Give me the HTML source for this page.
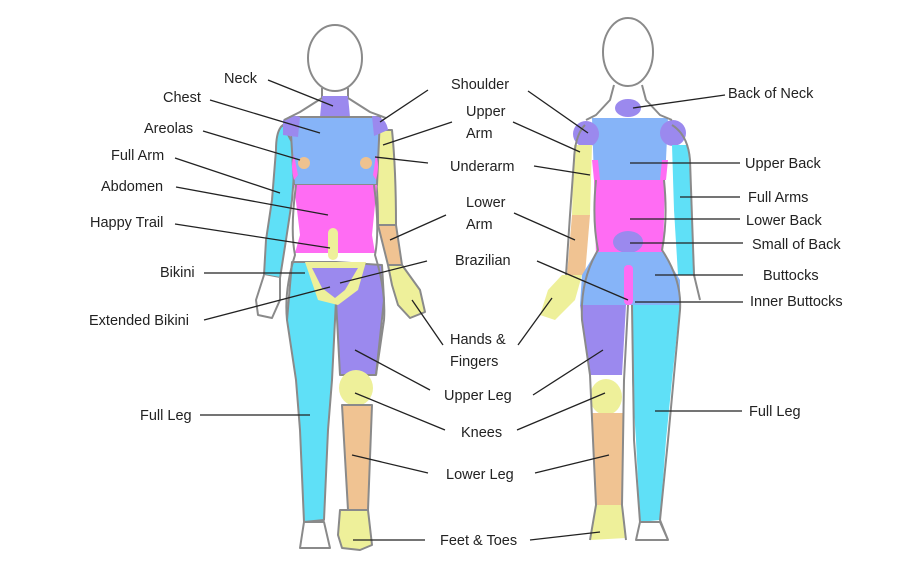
<!DOCTYPE html>
<html><head><meta charset="utf-8"><style>
html,body{margin:0;padding:0;background:#fff;}
svg{display:block;}
text{font-family:"Liberation Sans",sans-serif;font-size:14.5px;fill:#222;}
</style></head><body>
<svg width="900" height="580" viewBox="0 0 900 580" xmlns="http://www.w3.org/2000/svg">
<g stroke="#8a8a8a" stroke-width="2" stroke-linejoin="round">
<!-- FRONT FIGURE -->
<ellipse cx="335" cy="58" rx="27" ry="33" fill="#fff"/>
<path d="M322 88 L322 98 M348 88 L348 98" fill="none"/>
<!-- left arm cyan -->
<path d="M283 125 Q276 130 276 150 L272 200 L266 240 L264 275 L280 278 L286 240 L292 200 L296 150 Z" fill="#5fe0f7"/>
<path d="M264 275 L256 300 L258 315 L272 318 L280 300 L280 278" fill="#fff"/>
<!-- right arm -->
<path d="M378 130 L392 130 Q396 170 396 225 L378 225 Q378 180 372 150 Z" fill="#eef09a"/>
<path d="M378 225 L396 225 L402 265 L388 265 Z" fill="#f0c392"/>
<path d="M388 265 L402 265 L420 290 L425 312 L410 318 L398 305 L392 285 Z" fill="#eef09a"/>
<!-- torso -->
<path d="M322 96 L348 96 L350 117 L320 117 Z" fill="#9b89ee" stroke="none"/>
<path d="M290 117 L380 117 L377 185 L294 185 Z" fill="#86b4f8"/>
<path d="M283 120 Q292 114 300 117 L298 137 L283 135 Z" fill="#9b89ee" stroke="none"/>
<path d="M372 116 Q386 116 388 130 L374 136 Z" fill="#9b89ee" stroke="none"/>
<path d="M294 155 Q290 165 294 180 L298 175 Z M376 155 Q380 165 376 180 L373 175 Z" fill="#ff6cf3" stroke="none"/>
<circle cx="304" cy="163" r="6" fill="#efc28f" stroke="none"/>
<circle cx="366" cy="163" r="6" fill="#efc28f" stroke="none"/>
<path d="M294 185 L377 185 L372 235 L375 253 L295 253 L300 235 Z" fill="#ff6cf3" stroke="none"/>
<rect x="328" y="228" width="10" height="32" rx="5" fill="#eef09a" stroke="none"/>
<!-- legs -->
<path d="M292 262 L336 262 L336 300 L332 380 L328 430 L324 520 L304 522 L300 430 L296 380 L287 320 Z" fill="#5fe0f7"/>
<path d="M336 262 L382 265 L384 300 L376 375 L340 375 L336 300 Z" fill="#9b89ee"/>
<path d="M305 262 L366 262 L358 290 L338 305 L318 300 Z" fill="#eef09a" stroke="none"/>
<path d="M312 268 L358 268 L345 290 L335 298 L322 288 Z" fill="#9b89ee" stroke="none"/>
<ellipse cx="356" cy="388" rx="17" ry="18" fill="#eef09a" stroke="none"/>
<path d="M342 405 L372 405 L368 510 L348 510 Z" fill="#f0c392"/>
<path d="M340 510 L368 510 L372 545 L360 550 L342 548 L338 535 Z" fill="#eef09a"/>
<path d="M304 522 L324 522 L330 548 L300 548 Z" fill="#fff"/>

<!-- BACK FIGURE -->
<ellipse cx="628" cy="52" rx="25" ry="34" fill="#fff"/>
<ellipse cx="628" cy="108" rx="13" ry="9" fill="#9b89ee" stroke="none"/>
<path d="M592 118 L668 118 L665 180 L594 180 Z" fill="#86b4f8" stroke="none"/>
<circle cx="586" cy="134" r="13" fill="#9b89ee" stroke="none"/>
<circle cx="673" cy="133" r="13" fill="#9b89ee" stroke="none"/>
<path d="M574 145 L592 145 L590 215 L572 215 Z" fill="#eef09a" stroke="none"/>
<path d="M572 215 L590 215 L585 275 L567 275 Z" fill="#f0c392" stroke="none"/>
<path d="M562 275 L582 275 L575 300 L555 320 L540 315 L548 290 Z" fill="#eef09a" stroke="none"/>
<path d="M672 145 L688 145 L692 210 L695 275 L678 275 L674 210 Z" fill="#5fe0f7" stroke="none"/>
<path d="M592 160 L598 160 L600 180 L594 180 Z M662 160 L668 160 L666 180 L660 180 Z" fill="#ff6cf3" stroke="none"/>
<path d="M594 180 L665 180 L663 255 L596 255 Z" fill="#ff6cf3" stroke="none"/>
<ellipse cx="628" cy="242" rx="15" ry="11" fill="#9b89ee" stroke="none"/>
<path d="M596 252 L663 252 L680 280 L680 305 L580 305 L582 275 Z" fill="#86b4f8" stroke="none"/>
<rect x="624" y="265" width="9" height="40" rx="4" fill="#ff6cf3" stroke="none"/>
<path d="M580 305 L626 305 L622 375 L590 375 Z" fill="#9b89ee" stroke="none"/>
<ellipse cx="606" cy="397" rx="16" ry="18" fill="#eef09a" stroke="none"/>
<path d="M591 413 L624 413 L622 505 L596 505 Z" fill="#f0c392" stroke="none"/>
<path d="M595 505 L622 505 L626 538 L590 540 Z" fill="#eef09a" stroke="none"/>
<path d="M632 305 L680 305 L672 380 L666 440 L660 520 L640 522 L636 440 L632 380 Z" fill="#5fe0f7" stroke="none"/>
<path d="M640 522 L660 522 L668 540 L636 540 Z" fill="#fff"/>
<path d="M585 125 Q575 135 574 160 L570 215 L566 275 M672 125 Q688 135 690 160 L694 275 L700 300 M596 180 Q592 220 598 250 Q580 280 582 320 L590 375 L596 505 L590 540 M664 180 Q668 220 662 250 Q682 280 680 310 L668 440 L660 520 L668 540 M628 305 L624 380 L622 505 L626 540 M632 305 L634 440 L640 522" fill="none"/>
<path d="M614 85 L610 100 L596 115 L586 120 M642 85 L646 100 L660 115 L672 120" fill="none"/>
<!-- front outline strokes -->
<path d="M322 98 L300 112 L284 120 M348 98 L370 112 L386 118 M296 185 Q290 230 295 255 Q284 290 287 320 M374 185 Q380 230 375 255 Q386 290 384 320 L376 375" fill="none"/>
</g>
<g stroke="#222" stroke-width="1.3" fill="none">
<line x1="268" y1="80" x2="333" y2="106"/>
<line x1="210" y1="100" x2="320" y2="133"/>
<line x1="203" y1="131" x2="300" y2="160"/>
<line x1="175" y1="158" x2="280" y2="193"/>
<line x1="176" y1="187" x2="328" y2="215"/>
<line x1="175" y1="224" x2="330" y2="248"/>
<line x1="204" y1="273" x2="305" y2="273"/>
<line x1="204" y1="320" x2="330" y2="287"/>
<line x1="200" y1="415" x2="310" y2="415"/>
<line x1="428" y1="90" x2="380" y2="122"/>
<line x1="452" y1="122" x2="383" y2="145"/>
<line x1="428" y1="163" x2="375" y2="157"/>
<line x1="446" y1="215" x2="390" y2="240"/>
<line x1="427" y1="261" x2="340" y2="283"/>
<line x1="443" y1="345" x2="412" y2="300"/>
<line x1="430" y1="390" x2="355" y2="350"/>
<line x1="445" y1="430" x2="355" y2="393"/>
<line x1="428" y1="473" x2="352" y2="455"/>
<line x1="425" y1="540" x2="353" y2="540"/>
<line x1="528" y1="91" x2="588" y2="133"/>
<line x1="513" y1="122" x2="580" y2="152"/>
<line x1="534" y1="166" x2="590" y2="175"/>
<line x1="514" y1="213" x2="575" y2="240"/>
<line x1="537" y1="261" x2="628" y2="300"/>
<line x1="518" y1="345" x2="552" y2="298"/>
<line x1="533" y1="395" x2="603" y2="350"/>
<line x1="517" y1="430" x2="605" y2="393"/>
<line x1="535" y1="473" x2="609" y2="455"/>
<line x1="530" y1="540" x2="600" y2="532"/>
<line x1="725" y1="95" x2="633" y2="108"/>
<line x1="740" y1="163" x2="630" y2="163"/>
<line x1="740" y1="197" x2="680" y2="197"/>
<line x1="740" y1="219" x2="630" y2="219"/>
<line x1="743" y1="243" x2="630" y2="243"/>
<line x1="743" y1="275" x2="655" y2="275"/>
<line x1="743" y1="302" x2="635" y2="302"/>
<line x1="742" y1="411" x2="655" y2="411"/>
</g>
<g>
<text x="224" y="83">Neck</text>
<text x="163" y="102">Chest</text>
<text x="144" y="133">Areolas</text>
<text x="111" y="160">Full Arm</text>
<text x="101" y="191">Abdomen</text>
<text x="90" y="227">Happy Trail</text>
<text x="160" y="277">Bikini</text>
<text x="89" y="325">Extended Bikini</text>
<text x="140" y="420">Full Leg</text>
<text x="451" y="89">Shoulder</text>
<text x="466" y="116">Upper</text>
<text x="466" y="138">Arm</text>
<text x="450" y="171">Underarm</text>
<text x="466" y="207">Lower</text>
<text x="466" y="229">Arm</text>
<text x="455" y="265">Brazilian</text>
<text x="450" y="344">Hands &amp;</text>
<text x="450" y="366">Fingers</text>
<text x="444" y="400">Upper Leg</text>
<text x="461" y="437">Knees</text>
<text x="446" y="479">Lower Leg</text>
<text x="440" y="545">Feet &amp; Toes</text>
<text x="728" y="98">Back of Neck</text>
<text x="745" y="168">Upper Back</text>
<text x="748" y="202">Full Arms</text>
<text x="746" y="225">Lower Back</text>
<text x="752" y="249">Small of Back</text>
<text x="763" y="280">Buttocks</text>
<text x="750" y="306">Inner Buttocks</text>
<text x="749" y="416">Full Leg</text>
</g>
</svg>
</body></html>
